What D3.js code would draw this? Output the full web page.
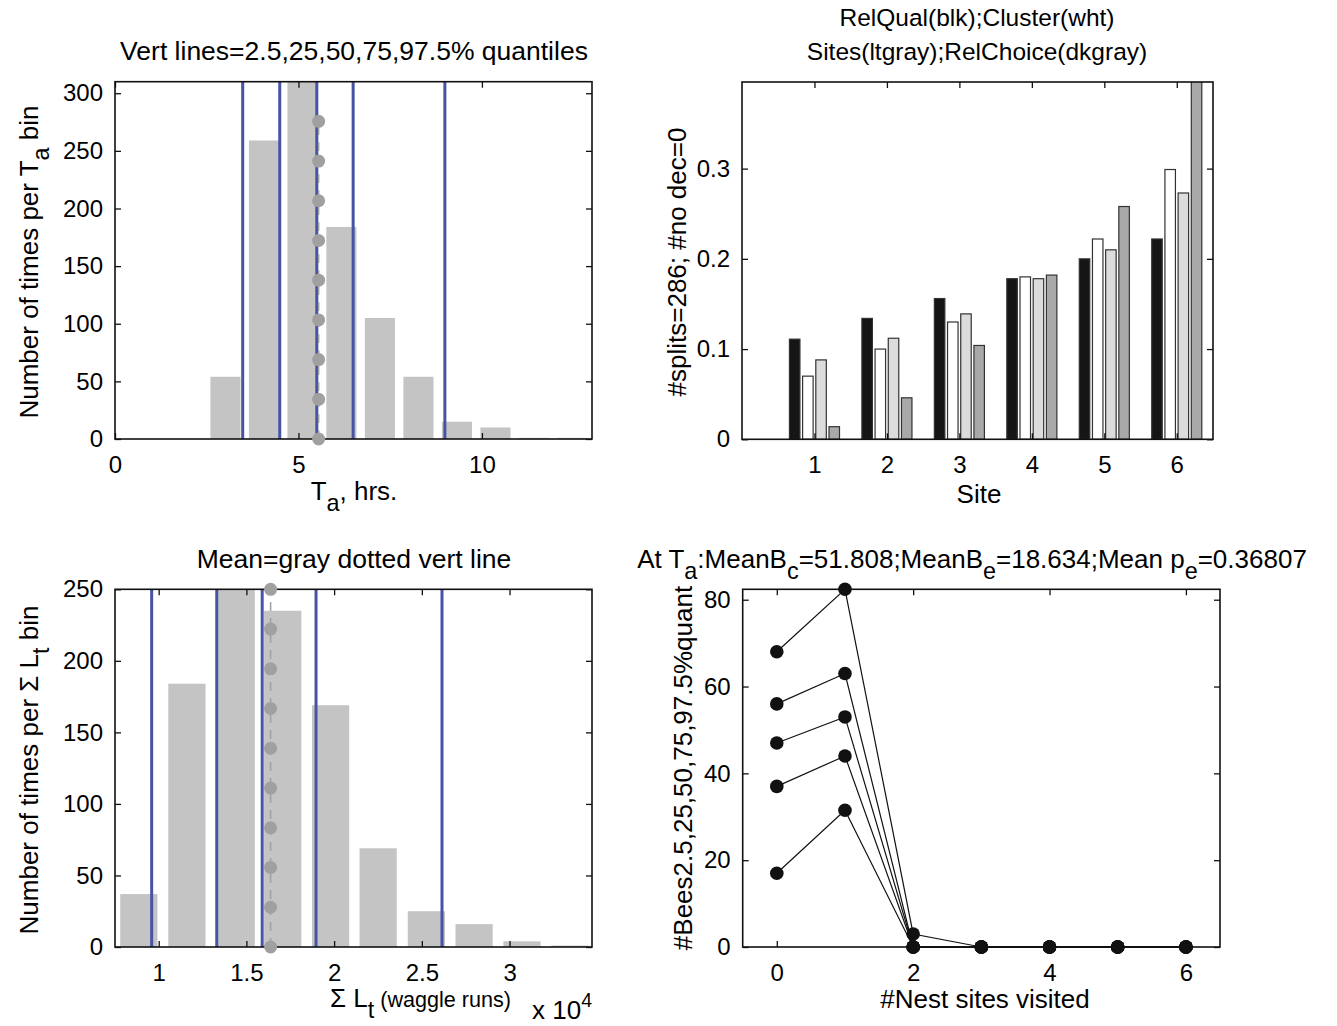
<!DOCTYPE html>
<html>
<head>
<meta charset="utf-8">
<script src="https://cdn.jsdelivr.net/npm/d3@7/dist/d3.min.js"></script>
<style>
  body { margin: 0; background: #fff; }
  text { font-family: "Liberation Sans", Arial, Helvetica, sans-serif; fill: #000; }
</style>
</head>
<body>
<svg id="fig" width="1337" height="1026"></svg>
<script>
// ---- top left: T_a histogram
const taCenters = [3.01, 4.06, 5.11, 6.17, 7.22, 8.27, 9.32, 10.37, 11.42, 12.47];
const taCounts = [54, 259, 310, 184, 105, 54, 15, 10, 1, 1];
const taQuant = [3.48, 4.49, 5.50, 6.49, 8.99];
const taMean = 5.55;
const taMeanDots = [0, 34.4, 68.9, 103.3, 137.8, 172.2, 206.7, 241.1, 275.6];
const taTicksX = [0, 5, 10];
const taTicksY = [0, 50, 100, 150, 200, 250, 300];

// ---- top right: grouped bars per site
const sites = [1, 2, 3, 4, 5, 6];
const relQual = [0.111, 0.134, 0.156, 0.178, 0.200, 0.222];
const clusterV = [0.070, 0.100, 0.130, 0.180, 0.222, 0.299];
const siteV = [0.088, 0.112, 0.139, 0.178, 0.210, 0.273];
const relChoice = [0.014, 0.046, 0.104, 0.182, 0.258, 0.42];
const siteTicksY = [0, 0.1, 0.2, 0.3];

// ---- bottom left: sum L_t histogram (x in units of 1e4)
const ltCenters = [0.887, 1.161, 1.442, 1.707, 1.980, 2.251, 2.526, 2.798, 3.071, 3.344];
const ltCounts = [37, 184, 250, 235, 169, 69, 25, 16, 4, 1];
const ltQuant = [0.96, 1.331, 1.59, 1.897, 2.615];
const ltMean = 1.638;
const ltMeanDots = [0, 27.8, 55.6, 83.3, 111.1, 138.9, 166.7, 194.4, 222.2, 250];
const ltTicksX = [1, 1.5, 2, 2.5, 3];
const ltTicksY = [0, 50, 100, 150, 200, 250];

// ---- bottom right: bees quantiles vs nest sites visited
const nestSites = [0, 1, 2, 3, 4, 5, 6];
const q975 = [68, 82.4, 3, 0, 0, 0, 0];
const q75 = [56, 63, 0, 0, 0, 0, 0];
const q50 = [47, 53, 0, 0, 0, 0, 0];
const q25 = [37, 44, 0, 0, 0, 0, 0];
const q025 = [17, 31.5, 0, 0, 0, 0, 0];
const beesTicksX = [0, 2, 4, 6];
const beesTicksY = [0, 20, 40, 60, 80];

const svg = d3.select('#fig');
const FS = 26, TFS = 24;
const BLUE = '#4753a4', HIST = '#c4c4c4', MEANC = '#a0a0a0';

// text with sub/superscripts; parts = [[str, 'sub'|'sup'|null, scale]]
function richText(t, parts, size) {
  let shift = 0;
  parts.forEach(p => {
    const [s, mode, sc] = p;
    const target = mode === 'sub' ? size * 0.42 : mode === 'sup' ? -size * 0.45 : 0;
    t.append('tspan').attr('dy', target - shift)
      .style('font-size', (size * (sc || 1)) + 'px').text(s);
    shift = target;
  });
  return t;
}

function label(x, y, parts, opts = {}) {
  const size = opts.size || FS;
  const t = svg.append('text')
    .attr('text-anchor', opts.anchor || 'middle')
    .style('font-size', size + 'px');
  if (opts.rotate) t.attr('transform', `translate(${x},${y}) rotate(-90)`);
  else t.attr('x', x).attr('y', y);
  return richText(t, parts, size);
}

function frame(g, x, y, tx, ty, fmtY) {
  const [x0, x1] = x.range(), [y0, y1] = y.range();
  const tk = 6;
  g.append('g').attr('transform', `translate(0,${y0})`)
    .call(d3.axisBottom(x).tickValues(tx).tickSizeInner(-tk).tickSizeOuter(0).tickPadding(17).tickFormat(d3.format('')))
    .call(a => a.select('.domain').remove());
  g.append('g').attr('transform', `translate(0,${y1})`)
    .call(d3.axisTop(x).tickValues(tx).tickSizeInner(-tk).tickSizeOuter(0).tickFormat(''))
    .call(a => a.select('.domain').remove());
  g.append('g').attr('transform', `translate(${x0},0)`)
    .call(d3.axisLeft(y).tickValues(ty).tickSizeInner(-tk).tickSizeOuter(0).tickPadding(12).tickFormat(fmtY || d3.format('')))
    .call(a => a.select('.domain').remove());
  g.append('g').attr('transform', `translate(${x1},0)`)
    .call(d3.axisRight(y).tickValues(ty).tickSizeInner(-tk).tickSizeOuter(0).tickFormat(''))
    .call(a => a.select('.domain').remove());
  g.selectAll('.tick line').attr('stroke', '#111').attr('stroke-width', 1.3);
  g.selectAll('.tick text').style('font-size', TFS + 'px').style('font-family', '"Liberation Sans", Arial, sans-serif').attr('fill', '#000');
  g.append('rect').attr('x', x0).attr('y', y1).attr('width', x1 - x0).attr('height', y0 - y1)
    .attr('fill', 'none').attr('stroke', '#111').attr('stroke-width', 1.6);
}

function histPanel(id, box, xDom, yDom, centers, counts, binW, quant, mean, dots, tx, ty) {
  const x = d3.scaleLinear().domain(xDom).range([box.l, box.r]);
  const y = d3.scaleLinear().domain(yDom).range([box.b, box.t]);
  const g = svg.append('g').attr('id', id);
  const w = binW * 0.78;
  g.selectAll('rect.bar').data(centers).join('rect').attr('class', 'bar')
    .attr('x', d => x(d - w / 2)).attr('width', d => x(d + w / 2) - x(d - w / 2))
    .attr('y', (d, i) => y(counts[i])).attr('height', (d, i) => y(0) - y(counts[i]))
    .attr('fill', HIST);
  g.selectAll('line.q').data(quant).join('line').attr('class', 'q')
    .attr('x1', d => x(d)).attr('x2', d => x(d)).attr('y1', y(yDom[0])).attr('y2', y(yDom[1]))
    .attr('stroke', BLUE).attr('stroke-width', 3);
  g.append('path').datum(dots)
    .attr('d', d3.line().x(() => x(mean)).y(d => y(d)))
    .attr('fill', 'none').attr('stroke', MEANC).attr('stroke-width', 1.5).attr('stroke-dasharray', '9,7');
  frame(g, x, y, tx, ty);
  g.selectAll('circle.m').data(dots).join('circle').attr('class', 'm')
    .attr('cx', x(mean)).attr('cy', d => y(d)).attr('r', 6.5).attr('fill', MEANC);
  return g;
}

// top left
histPanel('ta', { l: 115, r: 592, t: 81.7, b: 439 }, [0, 13], [0, 310],
  taCenters, taCounts, 1.052, taQuant, taMean, taMeanDots, taTicksX, taTicksY);
label(354, 60, [['Vert lines=2.5,25,50,75,97.5% quantiles']], { size: 26.5 });
label(354, 500, [['T'], ['a', 'sub', 0.9], [', hrs.']]);
label(38, 262, [['Number of times per T'], ['a', 'sub', 0.9], [' bin']], { rotate: true });

// bottom left
histPanel('lt', { l: 115, r: 592, t: 589.3, b: 947 }, [0.751, 3.47], [0, 250],
  ltCenters, ltCounts, 0.272, ltQuant, ltMean, ltMeanDots, ltTicksX, ltTicksY);
label(354, 568, [['Mean=gray dotted vert line']], { size: 26.5 });
label(38, 770, [['Number of times per \u03A3 L'], ['t', 'sub', 0.9], [' bin']], { rotate: true });
label(330, 1007, [['\u03A3 L'], ['t', 'sub', 0.9], ['  (waggle runs)', null, 0.83]], { anchor: 'start' });
label(532, 1019, [['x 10'], ['4', 'sup', 0.75]], { anchor: 'start' });

// top right: grouped bars
{
  const box = { l: 742, r: 1213, t: 82, b: 439.3 };
  const x = d3.scaleLinear().domain([0, 6.5]).range([box.l, box.r]);
  const y = d3.scaleLinear().domain([0, 0.396]).range([box.b, box.t]);
  const g = svg.append('g').attr('id', 'sites');
  svg.append('clipPath').attr('id', 'clipB').append('rect')
    .attr('x', box.l).attr('y', box.t).attr('width', box.r - box.l).attr('height', box.b - box.t);
  const series = [
    { v: relQual, c: '#151515' }, { v: clusterV, c: '#ffffff' },
    { v: siteV, c: '#dcdcdc' }, { v: relChoice, c: '#a9a9a9' }
  ];
  const offs = [-0.273, -0.091, 0.091, 0.273], bw = 0.145;
  const bars = g.append('g').attr('clip-path', 'url(#clipB)');
  series.forEach((s, k) => {
    bars.selectAll(null).data(sites).join('rect')
      .attr('x', d => x(d + offs[k] - bw / 2)).attr('width', x(bw) - x(0))
      .attr('y', (d, i) => y(s.v[i])).attr('height', (d, i) => y(0) - y(s.v[i]))
      .attr('fill', s.c).attr('stroke', '#333').attr('stroke-width', 1.2);
  });
  frame(g, x, y, sites, siteTicksY, d3.format(''));
  label(977, 26, [['RelQual(blk);Cluster(wht)']], { size: 24.5 });
  label(977, 60, [['Sites(ltgray);RelChoice(dkgray)']], { size: 24.5 });
  label(979, 503, [['Site']]);
  label(686, 262, [['#splits=286; #no dec=0']], { rotate: true });
}

// bottom right: quantile lines
{
  const box = { l: 742.7, r: 1220, t: 589.3, b: 947 };
  const x = d3.scaleLinear().domain([-0.5, 6.5]).range([box.l, box.r]);
  const y = d3.scaleLinear().domain([0, 82.4]).range([box.b, box.t]);
  const g = svg.append('g').attr('id', 'bees');
  frame(g, x, y, beesTicksX, beesTicksY);
  const line = d3.line().x((d, i) => x(nestSites[i])).y(d => y(d));
  [q975, q75, q50, q25, q025].forEach(s => {
    g.append('path').datum(s).attr('d', line).attr('fill', 'none').attr('stroke', '#111').attr('stroke-width', 1.2);
    g.selectAll(null).data(s).join('circle')
      .attr('cx', (d, i) => x(nestSites[i])).attr('cy', d => y(d)).attr('r', 6.8).attr('fill', '#111');
  });
  label(972, 568, [['At T'], ['a', 'sub', 0.9], [':MeanB'], ['c', 'sub', 0.9], ['=51.808;MeanB'], ['e', 'sub', 0.9],
    ['=18.634;Mean p'], ['e', 'sub', 0.9], ['=0.36807']], { size: 26 });
  label(985, 1008, [['#Nest sites visited']]);
  label(692, 768, [['#Bees2.5,25,50,75,97.5%quant']], { rotate: true });
}
</script>
</body>
</html>
